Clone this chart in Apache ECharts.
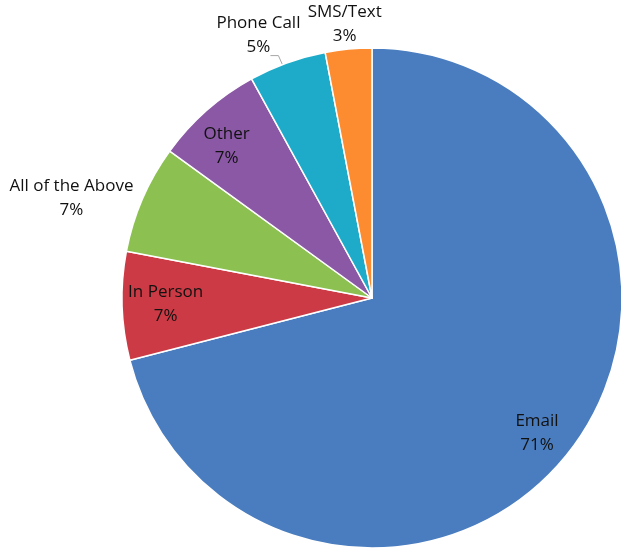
<!DOCTYPE html>
<html>
<head>
<meta charset="utf-8">
<title>Preferred contact method</title>
<script src="https://cdn.jsdelivr.net/npm/echarts@6/dist/echarts.min.js"></script>
<style>
  html, body { margin: 0; padding: 0; background: #ffffff; }
  #chart { width: 621px; height: 551px; }
</style>
</head>
<body>
<div id="chart"></div>
<script>
// Contact method categories and their share of responses (percent)
const categories = ['Email', 'In Person', 'All of the Above', 'Other', 'Phone Call', 'SMS/Text'];
const shares = [71, 7, 7, 7, 5, 3];

// Slice colours, in category order
const sliceColors = ['#4a7dbf', '#cc3b45', '#8cc152', '#8a58a5', '#1eabc9', '#fd8c30'];

// Label placement: distance from centre as a fraction of the radius,
// plus a small angular nudge (degrees) from the slice's middle angle
const labelRadius = [0.853, 0.826, 1.267, 0.842, 1.144, 1.10];
const labelNudge = [1.5, 0, -5, -2.3, -3.6, -0.3];

const CX = 372, CY = 298, R = 250;

const total = shares.reduce((a, b) => a + b, 0);
const midAngles = [];
let acc = 0;
shares.forEach(v => {
  midAngles.push((acc + v / 2) / total * 360);
  acc += v;
});

function polar(angleDeg, dist) {
  const a = angleDeg * Math.PI / 180;
  return [CX + dist * Math.sin(a), CY - dist * Math.cos(a)];
}

const chart = echarts.init(document.getElementById('chart'), null, { renderer: 'canvas' });

chart.setOption({
  animation: false,
  color: sliceColors,
  series: [{
    type: 'pie',
    center: [CX, CY],
    radius: [0, R],
    startAngle: 90,
    clockwise: true,
    avoidLabelOverlap: false,
    itemStyle: { borderColor: '#ffffff', borderWidth: 1.5 },
    label: {
      show: true,
      position: 'outside',
      formatter: '{b}\n{c}%',
      fontFamily: 'Open Sans',
      fontSize: 17,
      lineHeight: 24,
      color: '#111111',
      align: 'center'
    },
    labelLine: { show: false },
    labelLayout: function (params) {
      const i = params.dataIndex;
      const pos = polar(midAngles[i] + labelNudge[i], labelRadius[i] * R);
      const layout = {
        x: pos[0],
        y: pos[1],
        align: 'center',
        verticalAlign: 'middle'
      };
      if (categories[i] === 'Phone Call') {
        // short elbow leader from the slice rim to the label
        const p0 = polar(midAngles[i] - 1.2, R);
        const p1 = [p0[0] - 4, p0[1] - 9];
        const p2 = [p1[0] - 8, p1[1]];
        layout.labelLinePoints = [p0, p1, p2];
      }
      return layout;
    },
    data: categories.map((name, i) => {
      const item = { name: name, value: shares[i] };
      if (name === 'Phone Call') {
        item.labelLine = { show: true, length: 4, length2: 4, lineStyle: { color: '#a6a6a6', width: 1 } };
      }
      return item;
    })
  }]
});
</script>
</body>
</html>
